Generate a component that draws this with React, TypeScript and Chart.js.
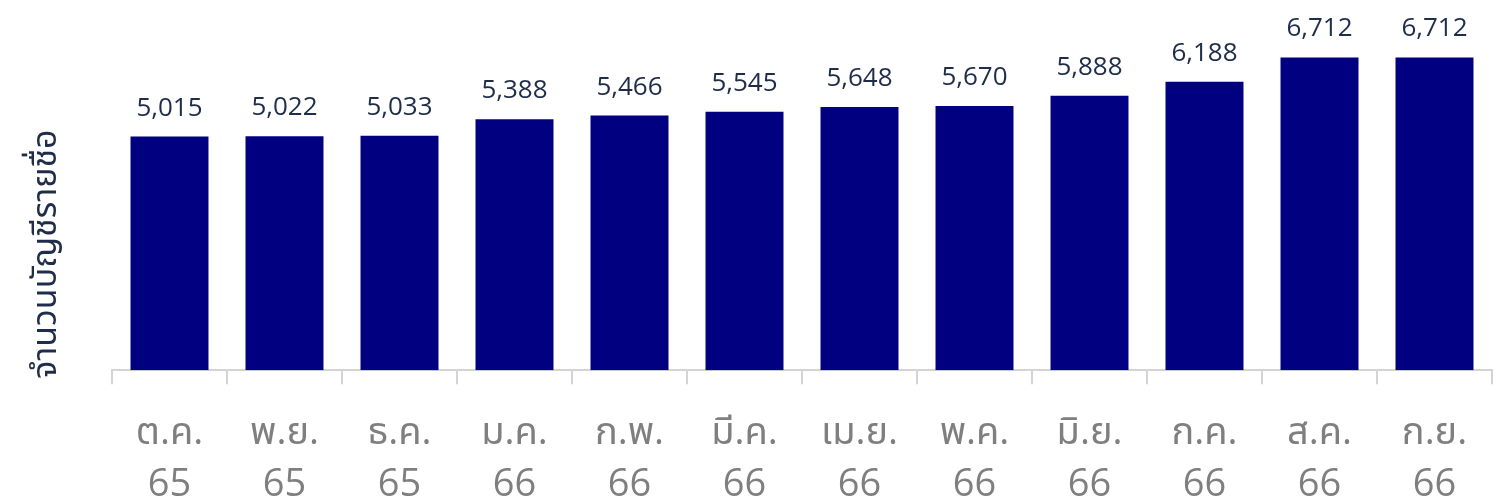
import React, { useEffect, useRef } from "react";
import { Chart, registerables } from "chart.js";

Chart.register(...registerables);

const monthLabels = ["ต.ค.", "พ.ย.", "ธ.ค.", "ม.ค.", "ก.พ.", "มี.ค.", "เม.ย.", "พ.ค.", "มิ.ย.", "ก.ค.", "ส.ค.", "ก.ย."];
const yearLabels = ["65", "65", "65", "66", "66", "66", "66", "66", "66", "66", "66", "66"];
const accountCounts = [5015, 5022, 5033, 5388, 5466, 5545, 5648, 5670, 5888, 6188, 6712, 6712];
const yAxisTitle = "จำนวนบัญชีรายชื่อ";

const FONT = "'Open Sans', 'Noto Sans', 'Noto Sans Thai', Loma, sans-serif";

const valueLabelPlugin = {
  id: "valueLabels",
  afterDatasetsDraw(chart: any) {
    const { ctx } = chart;
    const meta = chart.getDatasetMeta(0);
    const data = chart.data.datasets[0].data as number[];
    ctx.save();
    ctx.font = `26px ${FONT}`;
    ctx.fillStyle = "#1f2d4a";
    ctx.textAlign = "center";
    ctx.textBaseline = "alphabetic";
    meta.data.forEach((bar: any, i: number) => {
      ctx.fillText(data[i].toLocaleString("en-US"), bar.x, bar.y - 21);
    });
    ctx.restore();
  },
};

const yTitlePlugin = {
  id: "yTitle",
  afterDraw(chart: any) {
    const { ctx } = chart;
    ctx.save();
    ctx.translate(46, 254);
    ctx.rotate(-Math.PI / 2);
    ctx.font = `34px ${FONT}`;
    ctx.fillStyle = "#1f2d4a";
    ctx.textAlign = "center";
    ctx.textBaseline = "middle";
    ctx.fillText(yAxisTitle, 0, 0);
    ctx.restore();
  },
};

export default function App() {
  const canvasRef = useRef<HTMLCanvasElement | null>(null);

  useEffect(() => {
    if (!canvasRef.current) return;
    const chart = new Chart(canvasRef.current, {
      type: "bar",
      data: {
        labels: monthLabels.map((m, i) => [m, yearLabels[i]]),
        datasets: [
          {
            data: accountCounts,
            backgroundColor: "#000080",
            categoryPercentage: 0.678,
            barPercentage: 1,
          },
        ],
      },
      options: {
        responsive: false,
        animation: false,
        layout: { padding: { left: 112, right: 7, top: 44, bottom: -10 } },
        plugins: {
          legend: { display: false },
          tooltip: { enabled: false },
        },
        scales: {
          x: {
            offset: true,
            grid: {
              display: true,
              offset: true,
              drawOnChartArea: false,
              drawTicks: true,
              tickLength: 14,
              color: "#d4d4d4",
              lineWidth: 2,
            },
            border: { display: true, color: "#d4d4d4", width: 2 },
            ticks: {
              color: "#7f7f7f",
              font: { family: FONT, size: 38, lineHeight: 1.39 },
              padding: 22,
              maxRotation: 0,
              autoSkip: false,
            },
          },
          y: {
            display: false,
            min: 0,
            max: 7000,
          },
        },
      },
      plugins: [valueLabelPlugin, yTitlePlugin],
    });
    return () => chart.destroy();
  }, []);

  return (
    <div style={{ position: "fixed", left: 0, top: 0, width: 1499, height: 500, overflow: "hidden", background: "#ffffff" }}>
      <canvas ref={canvasRef} width={1499} height={524} />
    </div>
  );
}
